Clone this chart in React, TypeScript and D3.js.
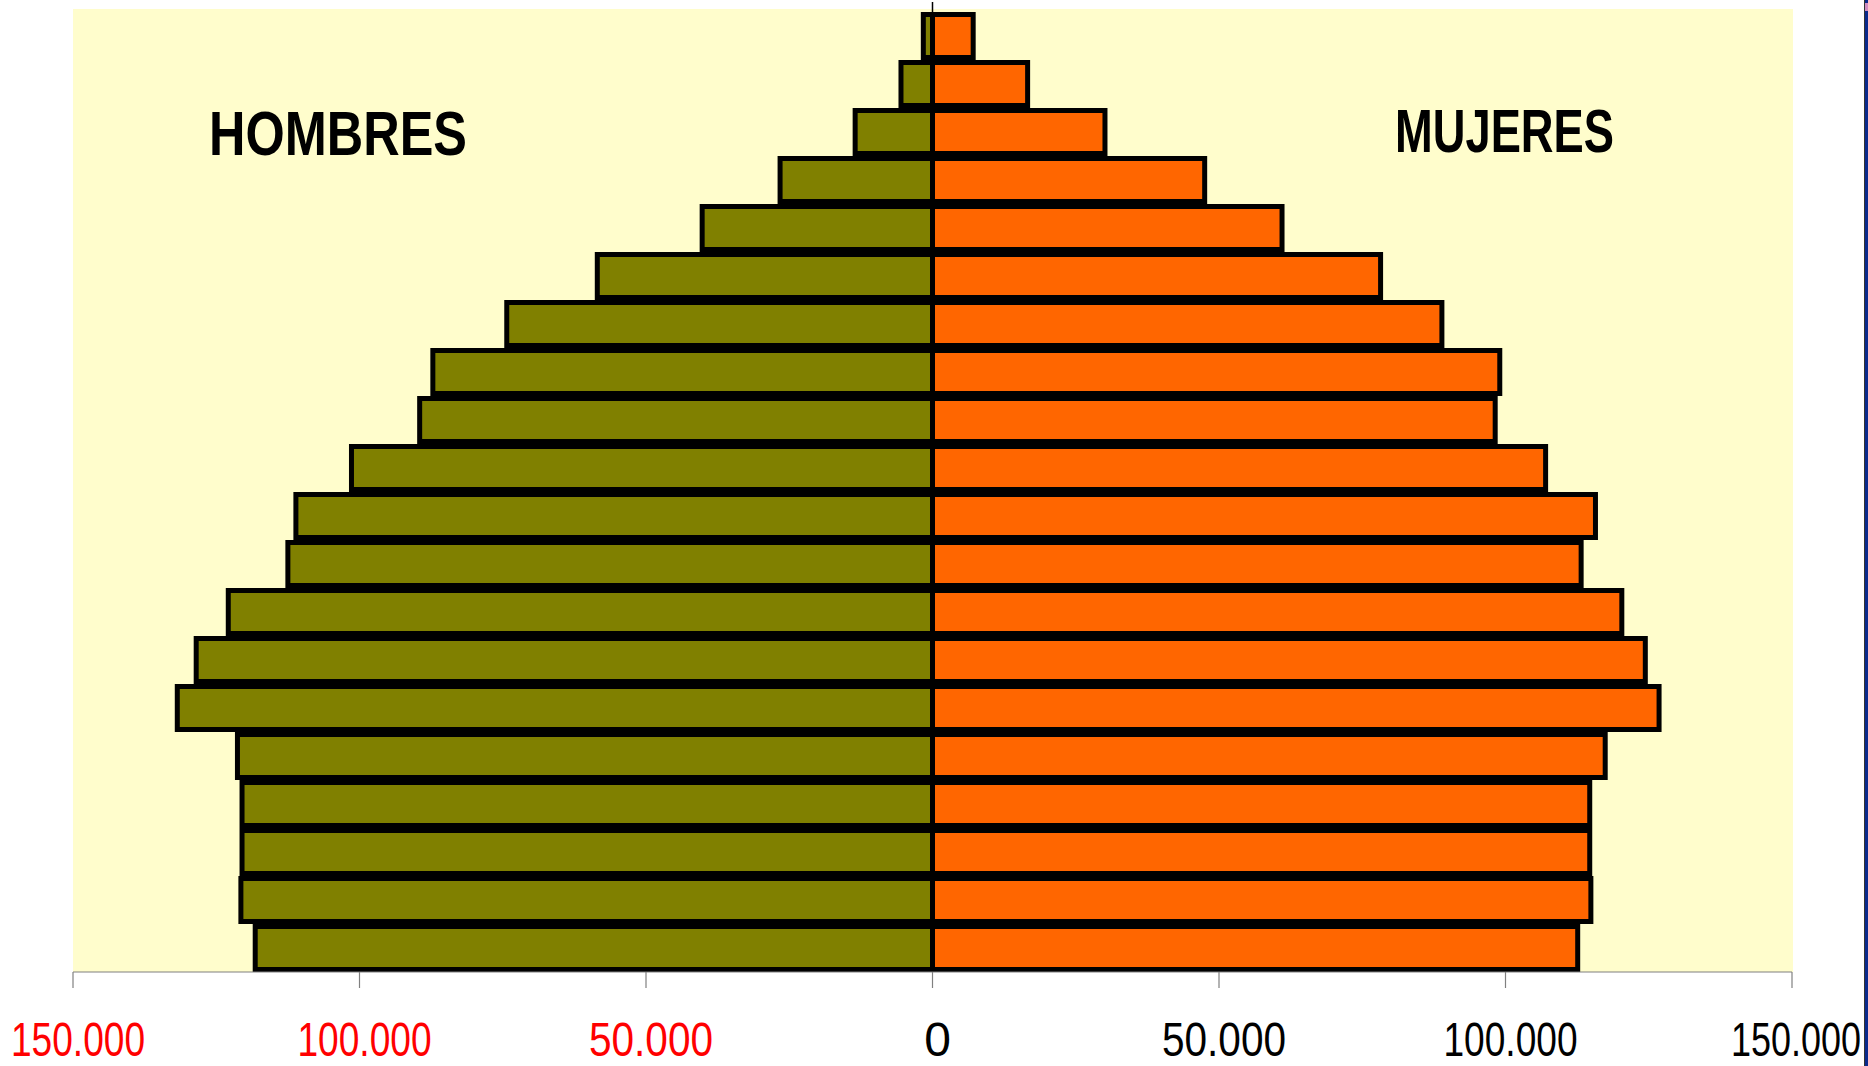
import React from "react";
import * as d3 from "d3";

const ageGroups = ["0-4","5-9","10-14","15-19","20-24","25-29","30-34","35-39","40-44","45-49","50-54","55-59","60-64","65-69","70-74","75-79","80-84","85-89","90-94","95+"];
const men = [118200,120700,120500,120500,121300,131800,128500,122900,112500,111100,101400,89500,87200,74300,58500,40200,26600,13500,5500,1600];
const women = [112600,114900,114700,114700,117400,126800,124400,120300,113200,115700,107000,98200,99000,88900,78200,61000,47500,30100,16600,7100];
const tickValues = [-150000,-100000,-50000,0,50000,100000,150000];
const tickLabels = ["150.000","100.000","50.000","0","50.000","100.000","150.000"];

const W = 1868, H = 1066;
const plotLeft = 73, plotRight = 1793, plotTop = 9, plotBottom = 972;

export default function App() {
  const x = d3.scaleLinear().domain([-150000, 150000]).range([73, 1792]);
  const y = d3.scaleBand().domain([...ageGroups].reverse()).range([12, 972]).paddingInner(0);
  const bw = y.bandwidth();
  const sw = 5;
  const x0 = x(0);
  return (
    <svg width={W} height={H} style={{ position: "absolute", left: 0, top: 0, display: "block", background: "#fff" }}>
      <rect x={plotLeft} y={plotTop} width={plotRight - plotLeft} height={plotBottom - plotTop} fill="#FFFDCC" />
      <line x1={x0} x2={x0} y1={2} y2={14} stroke="#000" strokeWidth={1.5} />
      {ageGroups.map((g, i) => (
        <g key={g}>
          <rect x={x(-men[i])} y={(y(g) as number) + sw / 2} width={x0 - x(-men[i])} height={bw - sw}
            fill="#808000" stroke="#000" strokeWidth={sw} />
          <rect x={x0} y={(y(g) as number) + sw / 2} width={x(women[i]) - x0} height={bw - sw}
            fill="#FF6600" stroke="#000" strokeWidth={sw} />
        </g>
      ))}
      <line x1={x(-150000)} x2={x(150000)} y1={972} y2={972} stroke="#808080" strokeWidth={1.2} />
      {tickValues.map((v, i) => {
        const isLast = i === tickValues.length - 1;
        const len = tickLabels[i].length === 7 ? (isLast ? 130 : 134) : 124;
        return (
          <g key={i}>
            <line x1={x(v)} x2={x(v)} y1={972} y2={988} stroke="#808080" strokeWidth={1.2} />
            <text x={isLast ? 1861 : x(v) + 5} y={1056} textAnchor={isLast ? "end" : "middle"}
              fontFamily="Liberation Sans, Arial, sans-serif" fontSize={48}
              fill={v < 0 ? "#FF0000" : "#000"}
              {...(tickLabels[i].length > 1 ? { textLength: len, lengthAdjust: "spacingAndGlyphs" } : {})}>
              {tickLabels[i]}
            </text>
          </g>
        );
      })}
      <text x={209} y={155} fontFamily="Liberation Sans, Arial, sans-serif" fontWeight="bold" fontSize={63}
        textLength={258} lengthAdjust="spacingAndGlyphs" fill="#000">HOMBRES</text>
      <text x={1395} y={152} fontFamily="Liberation Sans, Arial, sans-serif" fontWeight="bold" fontSize={62}
        textLength={219} lengthAdjust="spacingAndGlyphs" fill="#000">MUJERES</text>
      <rect x={1864} y={0} width={1} height={H} fill="#333" />
      <rect x={1865} y={0} width={3} height={H} fill="#0A2A8C" />
      <rect x={1865} y={3} width={3} height={8} fill="#D08CC0" />
    </svg>
  );
}
